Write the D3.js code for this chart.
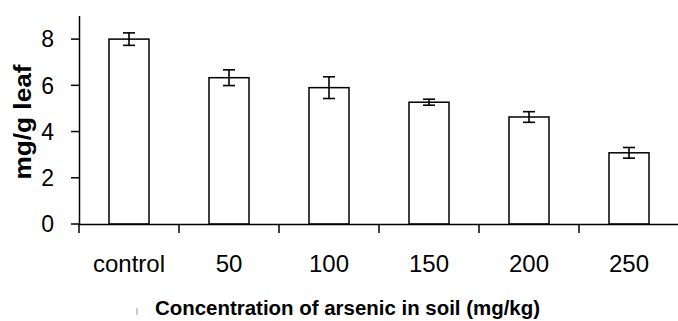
<!DOCTYPE html>
<html>
<head>
<meta charset="utf-8">
<script src="https://cdn.jsdelivr.net/npm/d3@7"></script>
<style>
  body { margin: 0; background: #fff; }
  svg { display: block; font-family: "Liberation Sans", Arial, sans-serif; }
</style>
</head>
<body>
<svg id="chart" width="678" height="321"></svg>
<script>
// data
var categories = ["control", "50", "100", "150", "200", "250"];
var means = [8.0, 6.33, 5.9, 5.27, 4.63, 3.08];
var errors = [0.27, 0.34, 0.47, 0.13, 0.23, 0.23];
var yTicks = [0, 2, 4, 6, 8];

var svg = d3.select("#chart");

var x = d3.scaleBand()
    .domain(categories)
    .range([79, 679])
    .paddingInner(0.6)
    .paddingOuter(0.3);

var y = d3.scaleLinear()
    .domain([0, 9])
    .range([224, 16]);

// bars
svg.append("g").selectAll("rect")
    .data(categories)
    .enter().append("rect")
    .attr("x", function (d) { return x(d); })
    .attr("y", function (d, i) { return y(means[i]); })
    .attr("width", x.bandwidth())
    .attr("height", function (d, i) { return y(0) - y(means[i]); })
    .attr("fill", "#fff")
    .attr("stroke", "#000")
    .attr("stroke-width", 1.5);

// error bars
var eb = svg.append("g").attr("stroke", "#000").attr("stroke-width", 1.6);
categories.forEach(function (c, i) {
    var cx = x(c) + x.bandwidth() / 2;
    var top = y(means[i] + errors[i]), bot = y(means[i] - errors[i]);
    eb.append("line").attr("x1", cx).attr("x2", cx).attr("y1", top).attr("y2", bot);
    eb.append("line").attr("x1", cx - 6).attr("x2", cx + 6).attr("y1", top).attr("y2", top);
    eb.append("line").attr("x1", cx - 6).attr("x2", cx + 6).attr("y1", bot).attr("y2", bot);
});

// y axis
var yAxis = svg.append("g").attr("stroke", "#000").attr("stroke-width", 1.5);
yAxis.append("line").attr("x1", 79.5).attr("x2", 79.5).attr("y1", 16).attr("y2", 224);
yTicks.forEach(function (t) {
    yAxis.append("line").attr("x1", 71).attr("x2", 79.5).attr("y1", y(t)).attr("y2", y(t));
});
svg.append("g").selectAll("text")
    .data(yTicks)
    .enter().append("text")
    .attr("x", 54)
    .attr("y", function (d) { return y(d); })
    .attr("dy", "0.36em")
    .attr("text-anchor", "end")
    .attr("font-size", 23)
    .text(function (d) { return d; });

// x axis
var xAxis = svg.append("g").attr("stroke", "#000").attr("stroke-width", 1.5);
xAxis.append("line").attr("x1", 79).attr("x2", 678).attr("y1", 224.5).attr("y2", 224.5);
var edges = categories.map(function (c) { return x(c) - x.step() * x.paddingInner() / 2; });
edges.push(679);
edges.forEach(function (e) {
    xAxis.append("line").attr("x1", e).attr("x2", e).attr("y1", 224).attr("y2", 233);
});
svg.append("g").selectAll("text")
    .data(categories)
    .enter().append("text")
    .attr("x", function (d) { return x(d) + x.bandwidth() / 2; })
    .attr("y", 272)
    .attr("text-anchor", "middle")
    .attr("font-size", 24)
    .text(function (d) { return d; });

// axis titles
svg.append("text")
    .attr("transform", "translate(31,122) rotate(-90)")
    .attr("text-anchor", "middle")
    .attr("font-size", 23)
    .attr("font-weight", "bold")
    .attr("textLength", 115)
    .attr("lengthAdjust", "spacingAndGlyphs")
    .text("mg/g leaf");

svg.append("text")
    .attr("x", 155)
    .attr("y", 315)
    .attr("font-size", 20)
    .attr("font-weight", "bold")
    .attr("textLength", 385)
    .attr("lengthAdjust", "spacingAndGlyphs")
    .text("Concentration of arsenic in soil (mg/kg)");

// small stray mark left of the title
svg.append("line").attr("x1", 137).attr("x2", 137).attr("y1", 308).attr("y2", 315)
    .attr("stroke", "#bbb").attr("stroke-width", 1.5);
</script>
</body>
</html>
